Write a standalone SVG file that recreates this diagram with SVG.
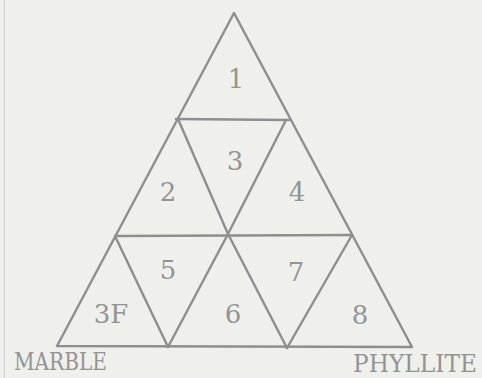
<svg xmlns="http://www.w3.org/2000/svg" width="482" height="378" viewBox="0 0 482 378">
<style>
.ln{fill:none;stroke:#8e8e8e;stroke-width:2.4;stroke-linejoin:round;stroke-linecap:round}
.t{font-family:"DejaVu Serif","Liberation Serif",serif;font-size:26px;fill:#939393;text-anchor:middle}
.lab{font-family:"DejaVu Serif","Liberation Serif",serif;font-size:24px;fill:#939393}
</style>
<rect width="482" height="378" fill="#efefec"/>
<line x1="4.5" y1="0" x2="4.5" y2="378" stroke="#d2d2d0" stroke-width="1.2"/>
<g id="connectors">
<polygon class="ln" points="234,13 57,346 412,347"/>
<line class="ln" x1="176" y1="119" x2="289" y2="120"/>
<line class="ln" x1="115" y1="236" x2="352" y2="235"/>
<polyline class="ln" points="178,119 228,234 287,348"/>
<polyline class="ln" points="286,120 228,234 168,347"/>
<line class="ln" x1="115" y1="236" x2="168" y2="347"/>
<line class="ln" x1="352" y1="235" x2="287" y2="348"/>
</g>
<g id="r1"><text class="t" x="236" y="88">1</text></g>
<g id="r2"><text class="t" x="168" y="201">2</text></g>
<g id="r3"><text class="t" x="235" y="170">3</text></g>
<g id="r4"><text class="t" x="297" y="201">4</text></g>
<g id="r5"><text class="t" x="168" y="279">5</text></g>
<g id="r6"><text class="t" x="233" y="323">6</text></g>
<g id="r7"><text class="t" x="296" y="281">7</text></g>
<g id="r8"><text class="t" x="360" y="324">8</text></g>
<g id="r3f"><text class="t" x="111" y="323">3F</text></g>
<g id="marble"><text class="lab" x="14" y="370" textLength="93" lengthAdjust="spacingAndGlyphs">MARBLE</text></g>
<g id="phyllite"><text class="lab" x="353" y="372" textLength="124" lengthAdjust="spacingAndGlyphs">PHYLLITE</text></g>
</svg>
